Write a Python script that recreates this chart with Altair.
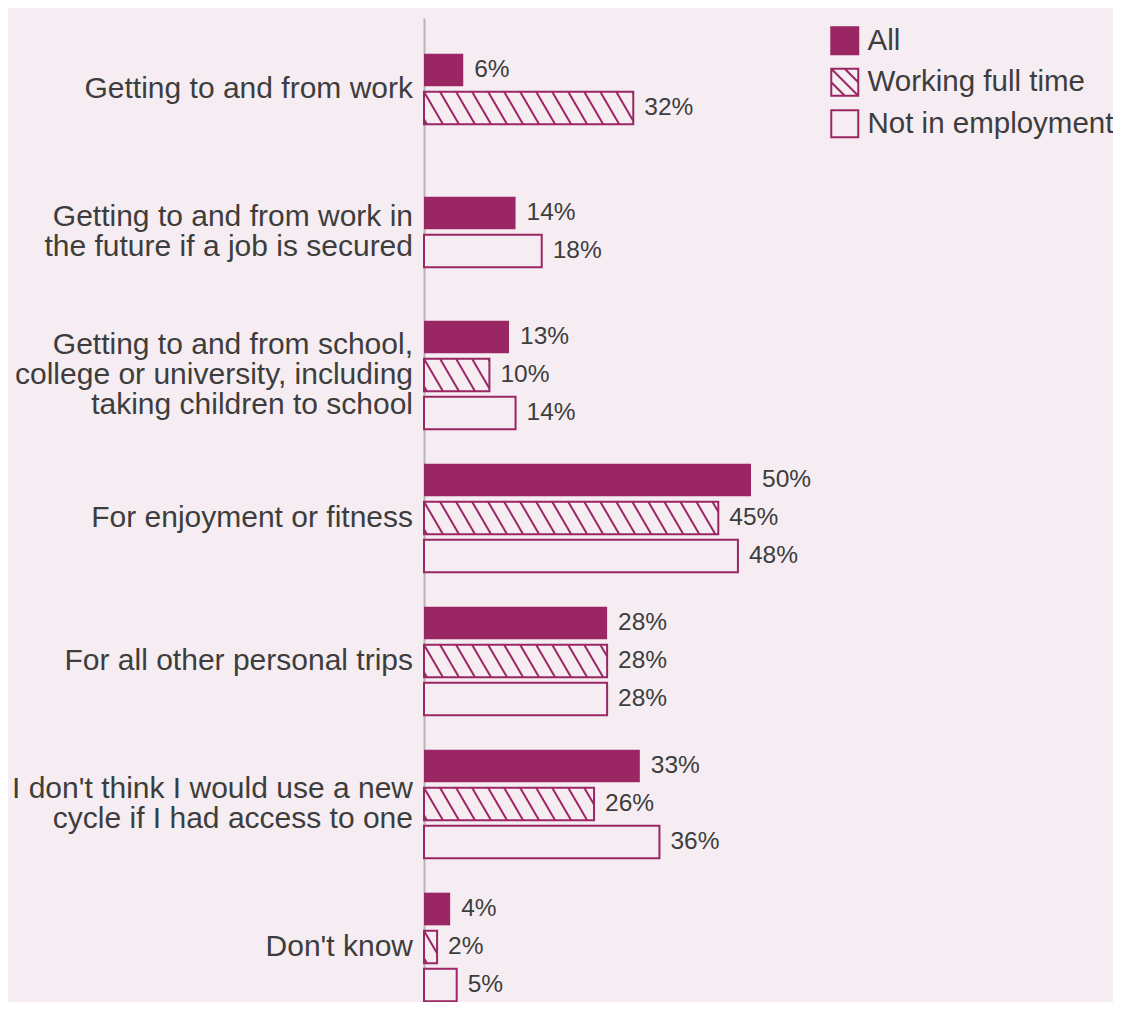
import math
import altair as alt

# ---------------- data ----------------
categories = [
    "Getting to and from work",
    "Getting to and from work in the future if a job is secured",
    "Getting to and from school, college or university, including taking children to school",
    "For enjoyment or fitness",
    "For all other personal trips",
    "I don't think I would use a new cycle if I had access to one",
    "Don't know",
]
label_lines = [
    "Getting to and from work",
    "Getting to and from work in\nthe future if a job is secured",
    "Getting to and from school,\ncollege or university, including\ntaking children to school",
    "For enjoyment or fitness",
    "For all other personal trips",
    "I don't think I would use a new\ncycle if I had access to one",
    "Don't know",
]
series = ["All", "Working full time", "Not in employment"]
all_vals = [6, 14, 13, 50, 28, 33, 4]
wft_vals = [32, None, 10, 45, 28, 26, 2]
nie_vals = [None, 18, 14, 48, 28, 36, 5]

# ---------------- style ----------------
PURPLE = "#9a2764"
BG = "#f6edf2"
TEXT = "#3d3d3d"
AXIS = "#b8b3b6"
FONT = "Liberation Sans"

ROW_PX = 38.0
GROUP_STEP = 143 / ROW_PX  # distance between category groups, in bar rows
BAR_HALF = 0.43            # half bar thickness, in bar rows
HATCH_SPACING = 2.45       # hatch spacing along x (percent units)
HATCH_RUN = 2.9            # horizontal run of one hatch stroke (percent units)
LABEL_LH = 30              # category label line height (px)

Y_MIN, Y_MAX = -1.868, 24.026

rows = []
groups = []
for g, cat in enumerate(categories):
    vals = [all_vals[g], wft_vals[g], nie_vals[g]]
    present = [(s, v) for s, v in zip(series, vals) if v is not None]
    n = len(present)
    for r, (s, v) in enumerate(present):
        pos = g * GROUP_STEP + (r - (n - 1) / 2)
        rows.append(dict(category=cat, series=s, value=v, zero=0, pos=pos,
                         top=pos - BAR_HALF, bottom=pos + BAR_HALF, label=f"{v}%"))
    nlines = label_lines[g].count("\n") + 1
    center = g * GROUP_STEP
    groups.append(dict(category=cat, lines=label_lines[g], zero=0,
                       pos=center - (nlines - 1) / 2 * LABEL_LH / ROW_PX))

# hatch strokes derived from the "Working full time" bars
hatch = []
for row in rows:
    if row["series"] != "Working full time":
        continue
    v = row["value"]
    k = -math.ceil(HATCH_RUN / HATCH_SPACING)
    while k * HATCH_SPACING < v:
        s = k * HATCH_SPACING
        t0 = max(0.0, -s / HATCH_RUN)
        t1 = min(1.0, (v - s) / HATCH_RUN)
        if t1 > t0:
            hatch.append(dict(x1=s + t0 * HATCH_RUN, x2=s + t1 * HATCH_RUN,
                              y1=row["top"] + t0 * 2 * BAR_HALF,
                              y2=row["top"] + t1 * 2 * BAR_HALF))
        k += 1

X_SCALE = alt.Scale(domain=[0, 100], nice=False, zero=True)
Y_SCALE = alt.Scale(domain=[Y_MIN, Y_MAX], reverse=True, nice=False, zero=False)
Y_AXIS = alt.Axis(title=None, labels=False, ticks=False, grid=False, domain=True,
                  domainColor=AXIS, domainWidth=2)

bar_data = alt.Data(values=rows)

filled = alt.Chart(bar_data).mark_rect(color=PURPLE).encode(
    x=alt.X("zero:Q", scale=X_SCALE, axis=None),
    x2="value:Q",
    y=alt.Y("top:Q", scale=Y_SCALE, axis=Y_AXIS),
    y2="bottom:Q",
).transform_filter(alt.datum.series == "All")

outline = alt.Chart(bar_data).mark_rect(fill=BG, stroke=PURPLE, strokeWidth=2).encode(
    x=alt.X("zero:Q", scale=X_SCALE, axis=None),
    x2="value:Q",
    y=alt.Y("top:Q", scale=Y_SCALE, axis=Y_AXIS),
    y2="bottom:Q",
).transform_filter(alt.datum.series != "All")

hatch_layer = alt.Chart(alt.Data(values=hatch)).mark_rule(color=PURPLE, strokeWidth=2).encode(
    x=alt.X("x1:Q", scale=X_SCALE, axis=None),
    x2="x2:Q",
    y=alt.Y("y1:Q", scale=Y_SCALE, axis=Y_AXIS),
    y2="y2:Q",
)

cat_labels = alt.Chart(alt.Data(values=groups)).mark_text(
    align="right", baseline="middle", dx=-11, fontSize=30, lineHeight=LABEL_LH,
    font=FONT, color=TEXT, lineBreak="\n",
).encode(
    x=alt.X("zero:Q", scale=X_SCALE, axis=None),
    y=alt.Y("pos:Q", scale=Y_SCALE, axis=Y_AXIS),
    text="lines:N",
)

val_labels = alt.Chart(bar_data).mark_text(
    align="left", baseline="middle", dx=11, fontSize=24.5, font=FONT, color=TEXT,
).encode(
    x=alt.X("value:Q", scale=X_SCALE, axis=None),
    y=alt.Y("pos:Q", scale=Y_SCALE, axis=Y_AXIS),
    text="label:N",
)

SQ = "M-1,-1H1V1H-1Z"
HATCH_SQ = "M-1,-1H1V1H-1Z M-1,-1L1,1 M0,-1L1,0 M-1,0L0,1"

legend_kw = dict(title=None, orient="none", legendX=406, legendY=8, padding=0,
                 symbolSize=729, symbolStrokeWidth=2, symbolOpacity=1,
                 labelFontSize=29.5, labelFont=FONT, labelColor=TEXT,
                 labelOffset=8, rowPadding=5.5, labelLimit=400)

legend_layer = alt.Chart(bar_data).mark_point(filled=True, opacity=1, strokeWidth=2).encode(
    x=alt.X("value:Q", scale=X_SCALE, axis=None),
    y=alt.Y("pos:Q", scale=Y_SCALE, axis=Y_AXIS),
    fill=alt.Fill("series:N", scale=alt.Scale(domain=series, range=[PURPLE, BG, BG]),
                  legend=alt.Legend(**legend_kw)),
    stroke=alt.Stroke("series:N", scale=alt.Scale(domain=series, range=[PURPLE] * 3),
                      legend=alt.Legend(**legend_kw)),
    shape=alt.Shape("series:N", scale=alt.Scale(domain=series, range=[SQ, HATCH_SQ, SQ]),
                    legend=alt.Legend(**legend_kw)),
).transform_filter("false")

chart = alt.layer(filled, outline, hatch_layer, cat_labels, val_labels, legend_layer).properties(
    width=654,
    height=984,
    background=BG,
    padding={"left": 416, "top": 10, "right": 35, "bottom": 0},
    autosize=alt.AutoSizeParams(type="none"),
).configure_view(stroke=None)

chart.save("out.html", embed_options={"renderer": "svg", "actions": False})
